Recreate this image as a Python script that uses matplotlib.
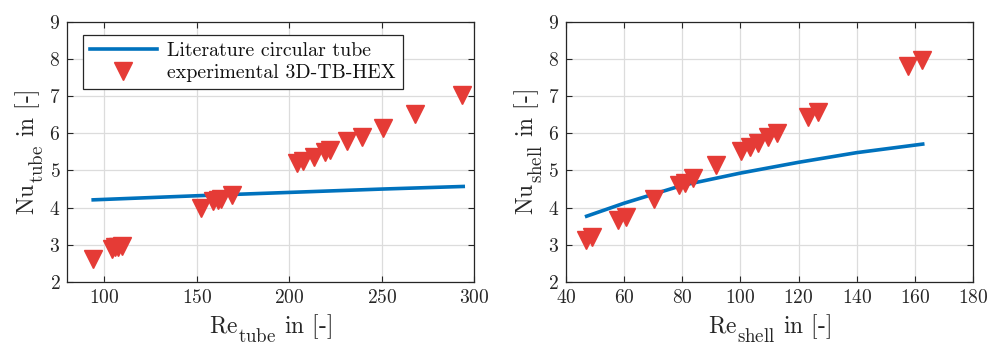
import matplotlib
matplotlib.use("Agg")
import matplotlib.pyplot as plt
try:
    import matplotlib._mathtext as _mt
    _mt.SHRINK_FACTOR = 0.8
    _mt.ComputerModernFontConstants.sub1 = 0.45
    _mt.ComputerModernFontConstants.subdrop = 0.3
except Exception:
    pass

plt.rcParams['font.family'] = ['cmr10', 'DejaVu Serif']
plt.rcParams['mathtext.fontset'] = 'cm'
plt.rcParams['axes.formatter.use_mathtext'] = True

# Left: tube side
re_tube_lit = [94, 150, 200, 250, 294]
nu_tube_lit = [4.21, 4.32, 4.41, 4.50, 4.57]
re_tube_exp = [93.7, 104, 106, 107.5, 109.4, 152.1, 158.9, 161.5, 163, 168.9,
               204.3, 207.6, 213.4, 219.3, 222, 231.4, 239.1, 250.5, 268, 293.5]
nu_tube_exp = [2.62, 2.90, 2.93, 2.95, 2.97, 3.98, 4.17, 4.20, 4.22, 4.34,
               5.20, 5.26, 5.37, 5.50, 5.56, 5.78, 5.91, 6.15, 6.51, 7.03]

# Right: shell side
re_shell_lit = [47.1, 60, 80, 100, 120, 140, 162.7]
nu_shell_lit = [3.77, 4.12, 4.60, 4.93, 5.22, 5.48, 5.71]
re_shell_exp = [46.8, 49, 58, 60.6, 70.4, 78.7, 81, 83.8, 91.5, 100.3, 103.3,
                106.2, 109.6, 112.5, 123.4, 126.8, 157.8, 162.4]
nu_shell_exp = [3.12, 3.20, 3.66, 3.76, 4.22, 4.60, 4.66, 4.79, 5.14, 5.53, 5.64,
                5.73, 5.91, 6.00, 6.45, 6.56, 7.80, 7.96]

blue = '#0072BD'
red = '#E53B36'
spine_col = '#262626'

fig = plt.figure(figsize=(10, 3.46), dpi=100)
axL = fig.add_axes([0.0673, 0.185, 0.407, 0.752])
axR = fig.add_axes([0.566, 0.185, 0.407, 0.752])

def style(ax, xlim, xticks, xlabel, ylabel):
    ax.set_xlim(*xlim)
    ax.set_ylim(2, 9)
    ax.set_xticks(xticks)
    ax.set_yticks(range(2, 10))
    ax.grid(True, color='#dcdcdc', linewidth=0.9)
    ax.set_axisbelow(True)
    for s in ax.spines.values():
        s.set_color(spine_col)
        s.set_linewidth(0.9)
    ax.tick_params(direction='in', top=True, right=True, length=4,
                   width=0.8, color=spine_col, labelsize=14, labelcolor=spine_col, pad=5)
    ax.set_xlabel(xlabel, fontsize=17, color=spine_col, labelpad=4)
    ax.set_ylabel(ylabel, fontsize=17, color=spine_col, labelpad=2)

axL.plot(re_tube_lit, nu_tube_lit, color=blue, lw=2.6, label='Literature circular tube', zorder=3)
axL.plot(re_tube_exp, nu_tube_exp, linestyle='none', marker='v', markersize=13.5,
         color=red, markeredgecolor=red, label='experimental 3D-TB-HEX', zorder=4)
style(axL, (80, 300), [100, 150, 200, 250, 300],
      r'$\mathrm{Re}_{\mathrm{tube}}$ in [-]', r'$\mathrm{Nu}_{\mathrm{tube}}$ in [-]')
leg = axL.legend(loc='upper left', bbox_to_anchor=(0.038, 0.949), borderaxespad=0,
                 fontsize=14.3, handlelength=3.4, numpoints=1, fancybox=False,
                 framealpha=1, edgecolor=spine_col, borderpad=0.35, labelspacing=0.2,
                 handletextpad=0.5)
leg.get_frame().set_linewidth(0.9)
for t in leg.get_texts():
    t.set_color('#111111')

axR.plot(re_shell_lit, nu_shell_lit, color=blue, lw=2.6, zorder=3)
axR.plot(re_shell_exp, nu_shell_exp, linestyle='none', marker='v', markersize=13.5,
         color=red, markeredgecolor=red, zorder=4)
style(axR, (40, 180), [40, 60, 80, 100, 120, 140, 160, 180],
      r'$\mathrm{Re}_{\mathrm{shell}}$ in [-]', r'$\mathrm{Nu}_{\mathrm{shell}}$ in [-]')

fig.savefig('out.png', dpi=100)
